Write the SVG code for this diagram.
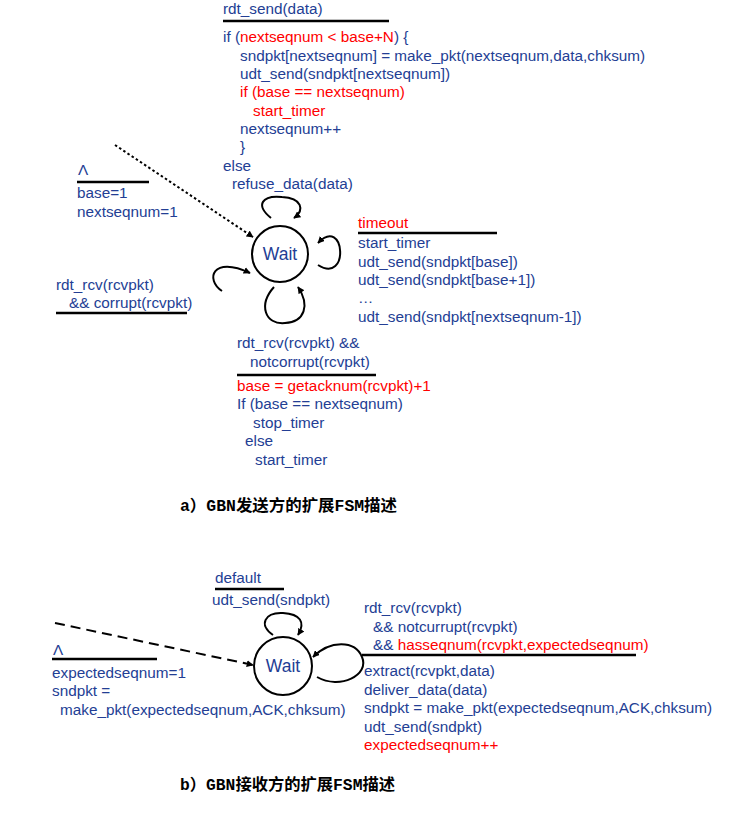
<svg xmlns="http://www.w3.org/2000/svg" width="751" height="840" viewBox="0 0 751 840">
<defs>
<style>
text{font-family:"Liberation Sans",Arial,sans-serif;font-size:15.3px;fill:#233e94}
.r{fill:#ff0000}
.cap{font-family:"Liberation Mono","Noto Sans CJK SC",monospace;font-size:16px;font-weight:bold;fill:#000}
.bar{stroke:#000;stroke-width:2.5}
.st{fill:#fff;stroke:#000;stroke-width:2}
.lp{fill:none;stroke:#000;stroke-width:2}
.wait{font-size:17.5px}
</style>
<marker id="ah" viewBox="0 0 10 10" refX="9" refY="5" markerWidth="7" markerHeight="7" orient="auto" markerUnits="userSpaceOnUse">
<path d="M0,0 L10,5 L0,10 z" fill="#000"/>
</marker>
</defs>
<rect width="751" height="840" fill="#fff"/>

<g id="connectors">
<path class="lp" d="M115,145 L253,237" stroke-dasharray="2.5,2.5" stroke-width="2.5" marker-end="url(#ah)"/>
<path class="lp" d="M271,218 C255,205 262,195 282,197 C302,198 305,210 294,218" marker-end="url(#ah)"/>
<path class="lp" d="M318,265 C350,285 345,215 318,243" marker-end="url(#ah)"/>
<path class="lp" d="M222,291 C205,280 212,255 250,273" marker-end="url(#ah)"/>
<path class="lp" d="M274,287 C258,305 265,325 285,323 C305,322 310,305 298,287" marker-end="url(#ah)"/>
<path class="lp" d="M55,623 L253,665" stroke-dasharray="10,6" stroke-width="2.5" marker-end="url(#ah)"/>
<path class="lp" d="M273,635 C258,625 265,612 283,613 C300,614 306,622 298,635" marker-end="url(#ah)"/>
<path class="lp" d="M317,677 C340,690 370,675 362,657 C355,640 330,640 313,657" marker-end="url(#ah)"/>
</g>

<g id="sender-wait">
<circle class="st" cx="280" cy="254" r="28"/>
<text class="wait" x="280" y="260" text-anchor="middle">Wait</text>
</g>

<g id="sender-rdt-send">
<text x="223" y="14">rdt_send(data)</text>
<line class="bar" x1="223" y1="21" x2="389" y2="21"/>
<text x="223" y="42">if (<tspan class="r">nextseqnum &lt; base+N</tspan>) {</text>
<text x="240" y="60.5">sndpkt[nextseqnum] = make_pkt(nextseqnum,data,chksum)</text>
<text x="240" y="79">udt_send(sndpkt[nextseqnum])</text>
<text x="240" y="97" class="r">if (base == nextseqnum)</text>
<text x="253" y="115.5" class="r">start_timer</text>
<text x="240" y="134">nextseqnum++</text>
<text x="240" y="152">}</text>
<text x="223" y="170.5">else</text>
<text x="232" y="189">refuse_data(data)</text>
</g>

<g id="sender-init">
<text x="78" y="175" font-family="'Liberation Serif',serif">Λ</text>
<line class="bar" x1="77" y1="182" x2="149" y2="182"/>
<text x="77" y="198">base=1</text>
<text x="77" y="216.5">nextseqnum=1</text>
</g>

<g id="sender-corrupt">
<text x="56" y="290">rdt_rcv(rcvpkt)</text>
<text x="69" y="308">&amp;&amp; corrupt(rcvpkt)</text>
<line class="bar" x1="56" y1="313" x2="187" y2="313"/>
</g>

<g id="sender-timeout">
<text x="358" y="228" class="r">timeout</text>
<line class="bar" x1="358" y1="233" x2="497" y2="233"/>
<text x="358" y="248">start_timer</text>
<text x="358" y="266.5">udt_send(sndpkt[base])</text>
<text x="358" y="285">udt_send(sndpkt[base+1])</text>
<text x="358" y="303">…</text>
<text x="358" y="321.5">udt_send(sndpkt[nextseqnum-1])</text>
</g>

<g id="sender-ack">
<text x="237" y="348">rdt_rcv(rcvpkt) &amp;&amp;</text>
<text x="250" y="366.5">notcorrupt(rcvpkt)</text>
<line class="bar" x1="237" y1="375" x2="376" y2="375"/>
<text x="237" y="390.5" class="r">base = getacknum(rcvpkt)+1</text>
<text x="237" y="409">If (base == nextseqnum)</text>
<text x="253" y="427.5">stop_timer</text>
<text x="245" y="446">else</text>
<text x="255" y="464.5">start_timer</text>
</g>

<g id="caption-a">
<text class="cap" x="180" y="511" textLength="217" lengthAdjust="spacingAndGlyphs">a）GBN发送方的扩展FSM描述</text>
</g>

<g id="receiver-wait">
<circle class="st" cx="283" cy="666" r="29"/>
<text class="wait" x="283" y="672" text-anchor="middle">Wait</text>
</g>

<g id="receiver-default">
<text x="215" y="583">default</text>
<line class="bar" x1="215" y1="589" x2="284" y2="589"/>
<text x="212" y="605">udt_send(sndpkt)</text>
</g>

<g id="receiver-init">
<text x="53" y="655" font-family="'Liberation Serif',serif">Λ</text>
<line class="bar" x1="52" y1="659" x2="157" y2="659"/>
<text x="52" y="678">expectedseqnum=1</text>
<text x="52" y="696">sndpkt =</text>
<text x="60" y="714.5">make_pkt(expectedseqnum,ACK,chksum)</text>
</g>

<g id="receiver-rcv">
<text x="364" y="613">rdt_rcv(rcvpkt)</text>
<text x="373" y="631.5">&amp;&amp; notcurrupt(rcvpkt)</text>
<text x="373" y="650">&amp;&amp; <tspan class="r">hasseqnum(rcvpkt,expectedseqnum)</tspan></text>
<line class="bar" x1="362" y1="655" x2="636" y2="655"/>
<text x="364" y="676">extract(rcvpkt,data)</text>
<text x="364" y="694.5">deliver_data(data)</text>
<text x="364" y="713">sndpkt = make_pkt(expectedseqnum,ACK,chksum)</text>
<text x="364" y="731.5">udt_send(sndpkt)</text>
<text x="364" y="750" class="r">expectedseqnum++</text>
</g>

<g id="caption-b">
<text class="cap" x="180" y="790" textLength="215" lengthAdjust="spacingAndGlyphs">b）GBN接收方的扩展FSM描述</text>
</g>
</svg>
